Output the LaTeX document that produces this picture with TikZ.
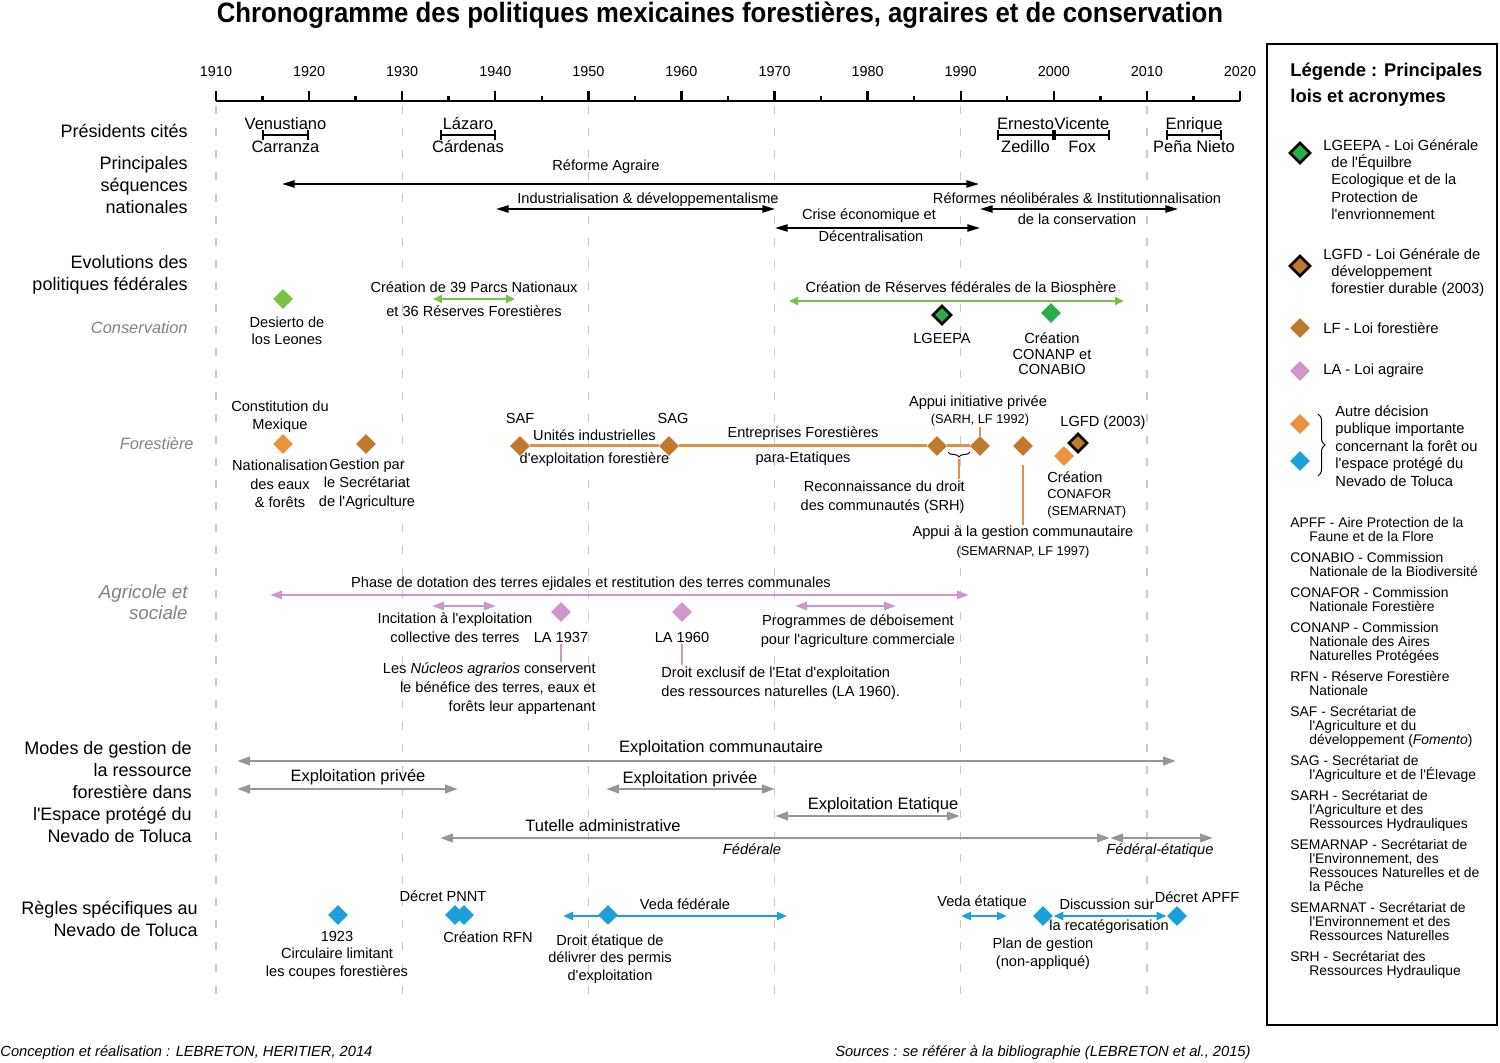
\documentclass[tikz,border=0pt]{standalone}
\usepackage{fontspec}
\setmainfont{Liberation Sans}[Ligatures=TeXOff]
\usepackage{tikz}
\usetikzlibrary{shapes.geometric, arrows.meta, decorations.pathreplacing}
\definecolor{vertclair}{RGB}{122,192,67}
\definecolor{vertfonce}{RGB}{42,174,76}
\definecolor{brun}{RGB}{192,122,45}
\definecolor{orangeclair}{RGB}{233,148,58}
\definecolor{orangeligne}{RGB}{226,144,64}
\definecolor{rose}{RGB}{208,150,200}
\definecolor{bleu}{RGB}{28,160,218}
\definecolor{grisfleche}{RGB}{150,150,150}
\definecolor{grisgrille}{RGB}{200,200,200}
\definecolor{grislabel}{RGB}{130,130,130}

\begin{document}
\begin{tikzpicture}[
    x=0.5pt, y=-0.5pt,
    titre/.style={inner sep=0pt, font=\fontsize{14}{16}\selectfont\bfseries},
    annee/.style={inner sep=0.5pt, font=\fontsize{7.2}{9}\selectfont},
    rubrique/.style={anchor=east, align=right, inner sep=0pt, font=\fontsize{9}{11}\selectfont},
    sousrub/.style={anchor=east, align=right, inner sep=0pt, text=grislabel, font=\fontsize{8.2}{10.5}\selectfont\itshape},
    txt/.style={align=center, inner sep=0.5pt, text=black, font=\fontsize{7.3}{9}\selectfont},
    petit/.style={align=center, inner sep=0.5pt, font=\fontsize{6.4}{8}\selectfont},
    pres/.style={inner sep=0.5pt, text=black, text height=6pt, text depth=1.7pt, font=\fontsize{8.25}{10}\selectfont},
    leg/.style={align=left, inner sep=0pt, font=\fontsize{7.35}{8.65}\selectfont},
    jalon/.style={diamond, inner sep=0pt, minimum width=10pt, minimum height=10pt},
    loi/.style={diamond, inner sep=0pt, minimum width=9.5pt, minimum height=9.5pt, draw=black, line width=1.3pt},
    mandat/.style={arrows={Bar[width=5pt]-Bar[width=5pt]}, line width=0.9pt},
    seq/.style={<->, >={Triangle[length=6.3pt, width=3.6pt]}, line width=0.85pt},
    gestion/.style={<->, >={Triangle[length=6.5pt, width=4.2pt]}, line width=1.35pt, grisfleche},
    agri/.style={<->, >={Triangle[length=6pt, width=4pt]}, line width=1.3pt, rose},
    conserv/.style={<->, >={Triangle[length=4.5pt, width=4pt]}, line width=1.3pt, vertclair},
    nevado/.style={<->, >={Triangle[length=5pt, width=4pt]}, line width=1.3pt, bleu},
    foret/.style={line width=1.5pt, orangeligne},
    fil/.style={line width=0.6pt, orangeligne},
    filrose/.style={line width=0.6pt, rose},
    accolade/.style={decorate, decoration={brace, amplitude=2.5pt}, line width=0.5pt},
    grille/.style={grisgrille, line width=0.6pt, dash pattern=on 4pt off 7pt},
    axe/.style={line width=1.2pt}
]
\useasboundingbox (0,0) rectangle (1500,1063);

% grille des decennies
\foreach \i in {0,2,...,10}
    \draw[grille] ({216+93.09*\i},106) -- ({216+93.09*\i},998);

% titre
\node[titre] (titre) at (720,15) {\scalebox{0.92}[1]{Chronogramme des politiques mexicaines forestières, agraires et de conservation}};

% axe du temps
\draw[axe] (216,101) -- (1240,101);
\foreach \i in {0,...,11} {
    \pgfmathtruncatemacro{\an}{1910+10*\i}
    \draw[axe] ({216+93.09*\i},101) -- ++(0,-10);
    \node[annee] (an\an) at ({216+93.09*\i},72) {\an};
}
\foreach \i in {0,...,10}
    \draw[axe] ({262.5+93.09*\i},101) -- ++(0,-5);

% rubriques
\node[rubrique] (presidents) at (188,131) {Présidents cités};
\node[rubrique] (sequences) at (188,185) {Principales\\séquences\\nationales};
\node[rubrique] (evolutions) at (188,275) {Evolutions des\\politiques fédérales};
\node[sousrub] (conservation) at (188,328) {Conservation};
\node[sousrub] (forestiere) at (194,444) {Forestière};
\node[sousrub, font=\fontsize{9.4}{10.5}\selectfont\itshape] (agricole) at (188,602.5) {Agricole et\\sociale};
\node[rubrique] (modes) at (192,792) {Modes de gestion de\\la ressource\\forestière dans\\l'Espace protégé du\\Nevado de Toluca};
\node[rubrique] (regles) at (198,919) {Règles spécifiques au\\Nevado de Toluca};

% presidents
\coordinate (carr1) at (262,135); \coordinate (carr2) at (309,135);
\draw[mandat] (carr1) -- node[pres, above=0.3pt] (carranzaA) {Venustiano} node[pres, below=2pt] (carranzaB) {Carranza} (carr2);
\coordinate (card1) at (440,135); \coordinate (card2) at (496,135);
\draw[mandat] (card1) -- node[pres, above=0.3pt] (cardenasA) {Lázaro} node[pres, below=2pt] (cardenasB) {Cárdenas} (card2);
\coordinate (zed1) at (997,135); \coordinate (zed2) at (1054,135);
\draw[mandat] (zed1) -- node[pres, above=0.3pt] (zedilloA) {Ernesto} node[pres, below=2pt] (zedilloB) {Zedillo} (zed2);
\coordinate (fox1) at (1054,135); \coordinate (fox2) at (1110,135);
\draw[mandat] (fox1) -- node[pres, above=0.3pt] (foxA) {Vicente} node[pres, below=2pt] (foxB) {Fox} (fox2);
\coordinate (pena1) at (1166,135); \coordinate (pena2) at (1222,135);
\draw[mandat] (pena1) -- node[pres, above=0.3pt] (penaA) {Enrique} node[pres, below=2pt] (penaB) {Peña Nieto} (pena2);

% sequences nationales
\coordinate (ra1) at (282,184); \coordinate (ra2) at (979,184);
\draw[seq] (ra1) -- (ra2);
\node[txt] (reforme) at (606,167) {Réforme Agraire};
\coordinate (ind1) at (496,209); \coordinate (ind2) at (775,209);
\draw[seq] (ind1) -- (ind2);
\node[txt] (industrie) at (648,200) {Industrialisation \& développementalisme};
\coordinate (cri1) at (775,228); \coordinate (cri2) at (980,228);
\draw[seq] (cri1) -- (cri2);
\node[txt] (criseA) at (869,216) {Crise économique et};
\node[txt] (criseB) at (871,236) {Décentralisation};
\coordinate (neo1) at (980,209); \coordinate (neo2) at (1178,209);
\draw[seq] (neo1) -- (neo2);
\node[txt] (neolibA) at (1077,198) {Réformes néolibérales \& Institutionnalisation};
\node[txt] (neolibB) at (1077,219) {de la conservation};

% conservation
\node[jalon, fill=vertclair] (desierto) at (283,299) {};
\node[txt, font=\fontsize{7.3}{8.5}\selectfont] (desiertotxt) at (287,331) {Desierto de\\los Leones};
\coordinate (pn1) at (433,299); \coordinate (pn2) at (515,299);
\draw[conserv] (pn1) -- (pn2);
\node[txt] (parcsA) at (474,287) {Création de 39 Parcs Nationaux};
\node[txt] (parcsB) at (474,311) {et 36 Réserves Forestières};
\coordinate (bio1) at (789,301); \coordinate (bio2) at (1124,301);
\draw[conserv] (bio1) -- (bio2);
\node[txt] (biosphere) at (961,289) {Création de Réserves fédérales de la Biosphère};
\node[loi, fill=vertfonce] (lgeepa) at (942,315) {};
\node[txt] (lgeepatxt) at (942,338) {LGEEPA};
\node[jalon, fill=vertfonce] (conanp) at (1051,313) {};
\node[txt, font=\fontsize{7.3}{7.8}\selectfont] (conanptxt) at (1052,354) {Création\\CONANP et\\CONABIO};

% forestiere
\node[jalon, fill=orangeclair] (constitution) at (283,444) {};
\node[txt] (constitutionA) at (280,417) {Constitution du\\Mexique};
\node[txt, font=\fontsize{7.3}{9.25}\selectfont] (constitutionB) at (280,484) {Nationalisation\\des eaux\\\& forêts};
\node[jalon, fill=brun] (gestsecr) at (366,444) {};
\node[txt, font=\fontsize{7.3}{9.25}\selectfont] (gestsecrtxt) at (367,484) {Gestion par\\le Secrétariat\\de l'Agriculture};
\node[jalon, fill=brun] (saf) at (520,446) {};
\node[jalon, fill=brun] (sag) at (669,446) {};
\node[jalon, fill=brun] (lf1987) at (937,446) {};
\node[jalon, fill=brun] (lf1992) at (980,446) {};
\node[txt] (saftxt) at (520,418) {SAF};
\node[txt] (sagtxt) at (673,418) {SAG};
\draw[foret] (saf) -- node[txt, above=1.2pt] (unitesA) {Unités industrielles} node[txt, below=2pt] (unitesB) {d'exploitation forestière} (sag);
\draw[foret] (sag) -- node[txt, above=1.6pt] (entreprA) {Entreprises Forestières} node[txt, below=1.6pt] (entreprB) {para-Etatiques} (lf1987);
\draw[foret] (lf1987) -- (lf1992);
\coordinate (acc1) at (948,452); \coordinate (acc2) at (970,452);
\draw[accolade] (acc2) -- (acc1);
\node[txt, anchor=east, align=right, font=\fontsize{7.3}{9.5}\selectfont] (srhtxt) at (966,497) {Reconnaissance du droit\\des communautés (SRH)};
\coordinate (srh) at (959,459);
\draw[fil] (srh) -- (srh |- srhtxt.north);
\node[txt] (privee) at (978,403) {Appui initiative privée};
\node[petit] (sarh) at (980,420) {(SARH, LF 1992)};
\draw[fil] (lf1992.north) -- (lf1992.north |- sarh.south);
\node[jalon, fill=brun] (lf1997) at (1023,446) {};
\node[txt] (gestcomm) at (1023,533) {Appui à la gestion communautaire};
\node[petit] (semarnap) at (1023,552) {(SEMARNAP, LF 1997)};
\draw[fil, shorten <=4.5pt] (lf1997.south) -- (gestcomm.north);
\node[loi, fill=brun] (lgfd) at (1078,443) {};
\node[txt] (lgfdtxt) at (1103,423) {LGFD (2003)};
\node[jalon, fill=orangeclair] (conafor) at (1064,456) {};
\node[txt, anchor=north west, align=left, font=\fontsize{7.3}{8.3}\selectfont] (conafortxt) at (1046,470) {Création\\{\fontsize{6.4}{8}\selectfont CONAFOR}\\{\fontsize{6.4}{8}\selectfont (SEMARNAT)}};

% agricole et sociale
\coordinate (dot1) at (270,595); \coordinate (dot2) at (969,595);
\draw[agri] (dot1) -- (dot2);
\node[txt] (dotation) at (591,584) {Phase de dotation des terres ejidales et restitution des terres communales};
\coordinate (inc1) at (432,606); \coordinate (inc2) at (496,606);
\draw[agri] (inc1) -- (inc2);
\node[txt, font=\fontsize{7.3}{9.5}\selectfont] (incitation) at (455,628) {Incitation à l'exploitation\\collective des terres};
\node[jalon, fill=rose] (la1937) at (561,612) {};
\node[txt] (la37txt) at (561,637) {LA 1937};
\node[jalon, fill=rose] (la1960) at (682,612) {};
\node[txt] (la60txt) at (682,637) {LA 1960};
\coordinate (deb1) at (795,606); \coordinate (deb2) at (896,606);
\draw[agri] (deb1) -- (deb2);
\node[txt, font=\fontsize{7.3}{9.5}\selectfont] (deboisement) at (858,631) {Programmes de déboisement\\pour l'agriculture commerciale};
\node[txt, anchor=east, align=right, font=\fontsize{7.3}{9.5}\selectfont] (nucleos) at (597,689) {Les \textit{Núcleos agrarios} conservent\\le bénéfice des terres, eaux et\\forêts leur appartenant};
\node[txt, anchor=west, align=left, font=\fontsize{7.3}{9.5}\selectfont] (droitetat) at (660,683) {Droit exclusif de l'Etat d'exploitation\\des ressources naturelles (LA 1960).};
\draw[filrose] (la37txt.south) -- (la37txt.south |- nucleos.north);
\draw[filrose] (la60txt.south) -- (la60txt.south |- droitetat.north);

% modes de gestion
\coordinate (com1) at (237,761); \coordinate (com2) at (1176,761);
\draw[gestion] (com1) -- (com2);
\node[pres] (communautaire) at (721,748) {Exploitation communautaire};
\coordinate (pri1) at (237,789); \coordinate (pri2) at (458,789);
\draw[gestion] (pri1) -- (pri2);
\node[pres] (priveeA) at (358,777) {Exploitation privée};
\coordinate (prj1) at (606,789); \coordinate (prj2) at (775,789);
\draw[gestion] (prj1) -- (prj2);
\node[pres] (priveeB) at (690,779) {Exploitation privée};
\coordinate (eta1) at (775,816); \coordinate (eta2) at (960,816);
\draw[gestion] (eta1) -- (eta2);
\node[pres] (etatique) at (883,805) {Exploitation Etatique};
\coordinate (tut1) at (440,838); \coordinate (tut2) at (1110,838); \coordinate (tut3) at (1213,838);
\draw[gestion] (tut1) -- (tut2);
\draw[gestion] (tut2) -- (tut3);
\node[pres] (tutelle) at (603,827) {Tutelle administrative};
\node[txt, font=\fontsize{7.35}{9}\selectfont\itshape] (federale) at (752,849) {Fédérale};
\node[txt, font=\fontsize{7.35}{9}\selectfont\itshape] (fedetat) at (1160,851) {Fédéral-étatique};

% regles du Nevado de Toluca
\node[jalon, fill=bleu] (c1923) at (338,915) {};
\node[txt, font=\fontsize{7.3}{8.75}\selectfont] (c1923txt) at (337,955) {1923\\Circulaire limitant\\les coupes forestières};
\node[jalon, fill=bleu] (pnnt) at (455,915) {};
\node[jalon, fill=bleu] (rfn) at (464,915) {};
\node[txt] (pnnttxt) at (443,896) {Décret PNNT};
\node[txt] (rfntxt) at (488,937) {Création RFN};
\coordinate (vf1) at (563,916); \coordinate (vf2) at (787,916);
\draw[nevado] (vf1) -- (vf2);
\node[jalon, fill=bleu] (vedafed) at (608,915) {};
\node[txt] (vedafedtxt) at (685,904) {Veda fédérale};
\node[txt, font=\fontsize{7.3}{8.75}\selectfont] (permis) at (610,959) {Droit étatique de\\délivrer des permis\\d'exploitation};
\coordinate (ve1) at (961,916); \coordinate (ve2) at (1007,916);
\draw[nevado] (ve1) -- (ve2);
\node[txt] (vedaetat) at (982,903) {Veda étatique};
\node[jalon, fill=bleu] (plan) at (1043,916) {};
\node[jalon, fill=bleu] (apff) at (1177,916) {};
\draw[nevado] (plan) -- (apff);
\node[txt] (discussionA) at (1107,904) {Discussion sur};
\node[txt] (discussionB) at (1109,927) {la recatégorisation};
\node[txt] (apfftxt) at (1197,897) {Décret APFF};
\node[txt, font=\fontsize{7.3}{9}\selectfont] (plantxt) at (1043,954) {Plan de gestion\\(non-appliqué)};

% legende
\draw[line width=1pt] (1267,44) rectangle (1497,1025);
\node[leg, anchor=north west, font=\fontsize{9.2}{13}\selectfont\bfseries] (legende) at (1290,63) {Légende : Principales\\lois et acronymes};
\node[loi, fill=vertfonce, minimum width=10.5pt, minimum height=10.5pt] (leglgeepa) at (1300,153) {};
\node[leg, anchor=north west] (leglgeepatxt) at (1323,139) {LGEEPA - Loi Générale\\\hspace*{4pt}de l'Équilbre\\\hspace*{4pt}Ecologique et de la\\\hspace*{4pt}Protection de\\\hspace*{4pt}l'envrionnement};
\node[loi, fill=brun, minimum width=10.5pt, minimum height=10.5pt] (leglgfd) at (1300,266) {};
\node[leg, anchor=north west] (leglgfdtxt) at (1323,248) {LGFD - Loi Générale de\\\hspace*{4pt}développement\\\hspace*{4pt}forestier durable (2003)};
\node[jalon, fill=brun] (leglf) at (1300,328) {};
\node[leg, anchor=west] (leglftxt) at (1323,328) {LF - Loi forestière};
\node[jalon, fill=rose] (legla) at (1300,371) {};
\node[leg, anchor=west] (leglatxt) at (1323,371) {LA - Loi agraire};
\node[jalon, fill=orangeclair] (legautreA) at (1300,424) {};
\node[jalon, fill=bleu] (legautreB) at (1300,461) {};
\coordinate (legacc1) at (1318,414); \coordinate (legacc2) at (1318,476);
\draw[accolade, decoration={brace, amplitude=3.5pt}] (legacc1) -- (legacc2);
\node[leg, anchor=north west, font=\fontsize{7.35}{8.75}\selectfont] (legautretxt) at (1335,405) {Autre décision\\publique importante\\concernant la forêt ou\\l'espace protégé du\\Nevado de Toluca};
\node[leg, anchor=north west, font=\fontsize{6.95}{7}\selectfont] (acronymes) at (1290,517) {%
APFF - Aire Protection de la\\\hspace*{9.5pt}Faune et de la Flore\\[3.5pt]
CONABIO - Commission\\\hspace*{9.5pt}Nationale de la Biodiversité\\[3.5pt]
CONAFOR - Commission\\\hspace*{9.5pt}Nationale Forestière\\[3.5pt]
CONANP - Commission\\\hspace*{9.5pt}Nationale des Aires\\\hspace*{9.5pt}Naturelles Protégées\\[3.5pt]
RFN - Réserve Forestière\\\hspace*{9.5pt}Nationale\\[3.5pt]
SAF - Secrétariat de\\\hspace*{9.5pt}l'Agriculture et du\\\hspace*{9.5pt}développement (\textit{Fomento})\\[3.5pt]
SAG - Secrétariat de\\\hspace*{9.5pt}l'Agriculture et de l'Élevage\\[3.5pt]
SARH - Secrétariat de\\\hspace*{9.5pt}l'Agriculture et des\\\hspace*{9.5pt}Ressources Hydrauliques\\[3.5pt]
SEMARNAP - Secrétariat de\\\hspace*{9.5pt}l'Environnement, des\\\hspace*{9.5pt}Ressouces Naturelles et de\\\hspace*{9.5pt}la Pêche\\[3.5pt]
SEMARNAT - Secrétariat de\\\hspace*{9.5pt}l'Environnement et des\\\hspace*{9.5pt}Ressources Naturelles\\[3.5pt]
SRH - Secrétariat des\\\hspace*{9.5pt}Ressources Hydraulique};

% sources
\node[inner sep=0pt, anchor=west, font=\fontsize{7.35}{9}\selectfont\itshape] (conception) at (0,1053) {Conception et réalisation : LEBRETON, HERITIER, 2014};
\node[inner sep=0pt, anchor=east, font=\fontsize{7.35}{9}\selectfont\itshape] (sources) at (1251,1053) {Sources : se référer à la bibliographie (LEBRETON et al., 2015)};
\end{tikzpicture}
\end{document}
